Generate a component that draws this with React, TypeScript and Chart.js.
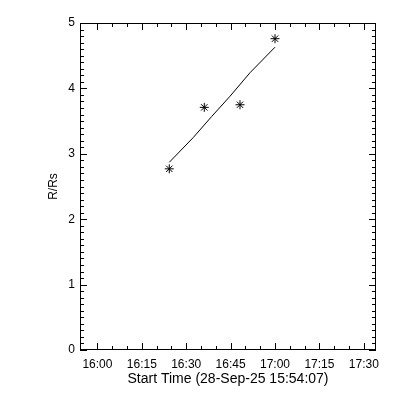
import React, { useEffect, useRef } from "react";
import { Chart, registerables } from "chart.js";

Chart.register(...registerables);

const startTime = "15:54:07";
const spanMinutes = 100;
const tickTimes = ["16:00", "16:15", "16:30", "16:45", "17:00", "17:15", "17:30"];
const pointTimes = ["16:24:17", "16:36:06", "16:48:10", "17:00:00"];
const pointR = [2.77, 3.71, 3.75, 4.76];
const fitTimes = ["16:24:17", "16:32:24", "16:38:36", "16:44:48", "16:51:33", "17:00:00"];
const fitR = [2.87, 3.25, 3.57, 3.88, 4.24, 4.63];
const yMin = 0;
const yMax = 5;
const xTitle = "Start Time (28-Sep-25 15:54:07)";
const yTitle = "R/Rs";

function toMin(s: string): number {
  const p = s.split(":").map(Number);
  return p[0] * 60 + p[1] + (p[2] || 0) / 60;
}
function fmt(v: number): string {
  const h = Math.floor(v / 60 + 1e-6);
  const m = Math.round(v - h * 60);
  return `${h}:${String(m).padStart(2, "0")}`;
}

const FONT = "'Liberation Sans', Arial, sans-serif";

const idlTicks = {
  id: "idlTicks",
  afterDraw(chart: any) {
    const { ctx, chartArea, scales } = chart;
    const { left, top, right, bottom } = chartArea;
    const x = scales.x;
    const y = scales.y;
    ctx.save();
    ctx.strokeStyle = "#000";
    ctx.lineWidth = 1;
    ctx.beginPath();
    for (let i = yMin * 10; i <= yMax * 10; i++) {
      const v = i / 10;
      const py = Math.round(y.getPixelForValue(v)) + 0.5;
      const len = i % 10 === 0 ? 7 : 4;
      ctx.moveTo(left, py);
      ctx.lineTo(left + len, py);
      ctx.moveTo(right, py);
      ctx.lineTo(right - len, py);
    }
    const first = toMin(tickTimes[0]);
    const last = toMin(tickTimes[tickTimes.length - 1]);
    for (let t = first; t <= last + 0.01; t += 5) {
      const px = Math.round(x.getPixelForValue(t)) + 0.5;
      const major = Math.round(t - first) % 15 === 0;
      const len = major ? 7 : 4;
      ctx.moveTo(px, bottom);
      ctx.lineTo(px, bottom - len);
      ctx.moveTo(px, top);
      ctx.lineTo(px, top + len);
    }
    ctx.stroke();
    ctx.strokeRect(left + 0.5, top + 0.5, right - left - 1, bottom - top - 1);
    ctx.restore();
  },
};

export default function App() {
  const ref = useRef<HTMLCanvasElement | null>(null);
  useEffect(() => {
    if (!ref.current) return;
    Chart.defaults.font.family = FONT;
    Chart.defaults.color = "#000";
    const x0 = toMin(startTime);
    const chart = new Chart(ref.current, {
      type: "scatter",
      data: {
        datasets: [
          {
            label: "fit",
            data: fitTimes.map((t, i) => ({ x: toMin(t), y: fitR[i] })),
            showLine: true,
            borderColor: "#000",
            borderWidth: 1,
            pointRadius: 0,
            fill: false,
          },
          {
            label: "R/Rs",
            data: pointTimes.map((t, i) => ({ x: toMin(t), y: pointR[i] })),
            showLine: false,
            pointStyle: "star",
            pointRadius: 4.5,
            borderColor: "#000",
            backgroundColor: "#000",
            borderWidth: 1,
          },
        ],
      },
      options: {
        responsive: false,
        animation: false,
        devicePixelRatio: 1,
        layout: { padding: { top: 23, right: 24, left: 0, bottom: 0 } },
        plugins: { legend: { display: false }, tooltip: { enabled: false } },
        scales: {
          x: {
            type: "linear",
            min: x0,
            max: x0 + spanMinutes,
            grid: { display: false, drawTicks: false },
            border: { display: false },
            afterBuildTicks: (s: any) => {
              s.ticks = tickTimes.map((t) => ({ value: toMin(t) }));
            },
            afterFit: (s: any) => {
              s.height = 50;
            },
            ticks: {
              padding: 7,
              maxRotation: 0,
              autoSkip: false,
              font: { size: 12 },
              color: "#000",
              callback: (v: any) => fmt(Number(v)),
            },
            title: {
              display: true,
              text: xTitle,
              color: "#000",
              font: { size: 14 },
              padding: { top: 0, bottom: 12 },
            },
          },
          y: {
            type: "linear",
            min: yMin,
            max: yMax,
            grid: { display: false, drawTicks: false },
            border: { display: false },
            afterFit: (s: any) => {
              s.width = 80;
            },
            ticks: {
              stepSize: 1,
              padding: 5,
              font: { size: 12 },
              color: "#000",
            },
            title: {
              display: true,
              text: yTitle,
              color: "#000",
              font: { size: 12 },
              padding: { top: 46, bottom: 0 },
            },
          },
        },
      },
      plugins: [idlTicks],
    } as any);
    return () => chart.destroy();
  }, []);
  return (
    <div style={{ position: "absolute", left: 0, top: 0, width: 400, height: 400, background: "#fff" }}>
      <canvas ref={ref} width={400} height={400} style={{ width: 400, height: 400, display: "block" }} />
    </div>
  );
}
